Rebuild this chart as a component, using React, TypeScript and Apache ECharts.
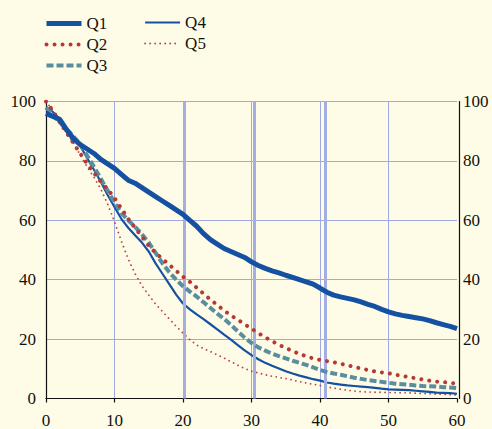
import React, { useEffect, useRef } from "react";
import * as echarts from "echarts";

const xs = Array.from({ length: 61 }, (_, i) => i);
const q1 = [96, 95, 94, 90.5, 87.5, 85.5, 84, 82.5, 80.5, 79, 77.5, 75.5, 73.5, 72.5, 71, 69.5, 68, 66.5, 65, 63.5, 62, 60, 58, 55.5, 53.5, 52, 50.5, 49.5, 48.5, 47.5, 46, 44.8, 43.8, 43, 42.3, 41.5, 40.8, 40, 39.3, 38.5, 37.2, 35.8, 34.8, 34.2, 33.7, 33.2, 32.5, 31.7, 31, 30, 29.2, 28.5, 28, 27.6, 27.2, 26.8, 26.2, 25.5, 24.9, 24.3, 23.5];
const q2 = [100, 97, 93, 89.5, 86, 82.5, 79, 76, 73, 70.5, 67.5, 64, 60.5, 57.5, 54.5, 51.5, 49, 47, 45, 43, 41, 39.3, 37.3, 35.3, 33.3, 31.5, 29.6, 28, 26.5, 25, 23.5, 22, 20.6, 19.3, 18.1, 17, 16, 15, 14.2, 13.5, 13, 12.6, 12.2, 11.7, 11.2, 10.6, 10.1, 9.6, 9.1, 8.8, 8.5, 8, 7.6, 7.2, 6.8, 6.4, 6, 5.7, 5.5, 5.3, 5];
const q3 = [98, 95.5, 93, 90.7, 88.3, 85.5, 81.8, 78, 74, 70, 66, 62.5, 60, 57.8, 55.3, 52.5, 49, 45.5, 42.5, 40, 37.8, 36, 34.3, 32.4, 30.5, 28.6, 26.8, 24.8, 22.6, 20.5, 18.7, 17.2, 16.1, 15.1, 14.3, 13.5, 12.7, 12, 11.3, 10.5, 9.6, 8.9, 8.4, 8, 7.5, 7, 6.6, 6.2, 5.9, 5.6, 5.3, 5, 4.8, 4.6, 4.4, 4.2, 4.1, 4, 3.8, 3.7, 3.5];
const q4 = [98, 96.5, 94, 91, 88, 85, 81, 77, 73, 68.5, 64.5, 60.5, 57.5, 55, 52.5, 49.5, 45.5, 42, 38.5, 35, 32, 30, 28.3, 26.7, 25, 23.3, 21.5, 19.8, 18, 16.2, 14.6, 13.2, 12, 11, 10.1, 9.2, 8.4, 7.7, 7.1, 6.5, 6, 5.4, 5, 4.7, 4.4, 4.2, 4, 3.8, 3.6, 3.3, 3.1, 3, 2.9, 2.8, 2.6, 2.4, 2.2, 2, 1.9, 1.8, 1.6];
const q5 = [100, 97, 93, 89.5, 86, 82, 78, 74.5, 70.5, 65.5, 59.5, 53, 47, 42, 38, 34.8, 31.8, 29.3, 26.8, 24.3, 22, 19.8, 18, 16.8, 15.8, 14.7, 13.6, 12.4, 11.2, 10.1, 9.2, 8.6, 8, 7.5, 7.1, 6.7, 6.2, 5.7, 5.2, 4.8, 4.4, 3.9, 3.5, 3.1, 2.8, 2.5, 2.3, 2.2, 2.1, 2.1, 2, 2, 1.9, 1.9, 1.8, 1.7, 1.6, 1.5, 1.4, 1.3, 1.2];
const markerXs = [20.25, 30.4, 40.75];
const seriesNames = ["Q1", "Q2", "Q3", "Q4", "Q5"];

const FONT = "Times New Roman, Liberation Serif, serif";
const BLUE = "#1551a2";
const RED = "#b43a3a";
const TEAL = "#5a8d9d";
const GRID = "#9eaae0";

export default function App() {
  const ref = useRef<HTMLDivElement>(null);
  useEffect(() => {
    if (!ref.current) return;
    const chart = echarts.init(ref.current, undefined, { renderer: "svg" });
    const pts = (arr: number[]) => xs.map((x, i) => [x, arr[i]]);
    const styles: any[] = [
      { color: BLUE, width: 5, type: "solid" },
      { color: RED, width: 4, type: [0.01, 8], cap: "round" },
      { color: TEAL, width: 4, type: [7, 3], cap: "butt" },
      { color: BLUE, width: 2.2, type: "solid" },
      { color: "#b84444", width: 1.8, type: [0.01, 5], cap: "round" },
    ];
    const datas = [q1, q2, q3, q4, q5];
    const legendCommon = {
      orient: "vertical",
      itemWidth: 35,
      itemHeight: 14,
      itemGap: 4,
      textStyle: { fontFamily: FONT, fontSize: 17, color: "#111" },
      padding: 0,
      selectedMode: false,
    };
    const legendItem = (i: number) => ({
      name: seriesNames[i],
      itemStyle: { opacity: 0, borderWidth: 0 },
      lineStyle: { width: styles[i].width, opacity: 1 },
    });
    chart.setOption({
      animation: false,
      backgroundColor: "#fefce6",
      textStyle: { fontFamily: FONT },
      legend: [
        { ...legendCommon, left: 44, top: 15, data: [0, 1, 2].map(legendItem) },
        { ...legendCommon, left: 144, top: 14, data: [3, 4].map(legendItem) },
      ],
      grid: { left: 46, right: 35, top: 101.5, bottom: 27.5, containLabel: false },
      xAxis: {
        type: "value",
        min: 0,
        max: 60,
        interval: 10,
        offset: 2.5,
        axisLine: { show: true, lineStyle: { color: "#111", width: 1.2 } },
        axisTick: { show: true, inside: false, length: 4, lineStyle: { color: "#111", width: 1.2 } },
        axisLabel: { fontFamily: FONT, fontSize: 17, color: "#111", margin: 11 },
        splitLine: { show: true, showMinLine: false, showMaxLine: false, lineStyle: { color: GRID, width: 1 } },
      },
      yAxis: [
        {
          type: "value",
          min: 0,
          max: 100,
          interval: 20,
          position: "left",
          axisLine: { show: true, lineStyle: { color: "#111", width: 1.2 } },
          axisTick: { show: false },
          axisLabel: { fontFamily: FONT, fontSize: 17, color: "#111", margin: 10 },
          splitLine: { show: true, showMinLine: false, lineStyle: { color: GRID, width: 1 } },
        },
        {
          type: "value",
          min: 0,
          max: 100,
          interval: 20,
          position: "right",
          offset: 2,
          axisLine: { show: true, lineStyle: { color: "#111", width: 1.2 } },
          axisTick: { show: false },
          axisLabel: { fontFamily: FONT, fontSize: 17, color: "#111", margin: 4 },
          splitLine: { show: false },
        },
      ],
      series: [
        {
          type: "line",
          name: "markers",
          data: [],
          z: 1,
          silent: true,
          markLine: {
            silent: true,
            symbol: ["none", "none"],
            label: { show: false },
            lineStyle: { color: "#a3aee2", width: 3, type: "solid" },
            data: markerXs.map((x) => ({ xAxis: x })),
          },
        },
        ...datas.map((d, i) => ({
          type: "line",
          name: seriesNames[i],
          data: pts(d),
          symbol: "none",
          showSymbol: false,
          z: 3 + (4 - i),
          lineStyle: styles[i],
          itemStyle: { color: styles[i].color },
        })),
      ],
    });
    return () => chart.dispose();
  }, []);
  return (
    <div
      ref={ref}
      style={{ position: "fixed", left: 0, top: 0, width: 492, height: 429, background: "#fefce6" }}
    />
  );
}
